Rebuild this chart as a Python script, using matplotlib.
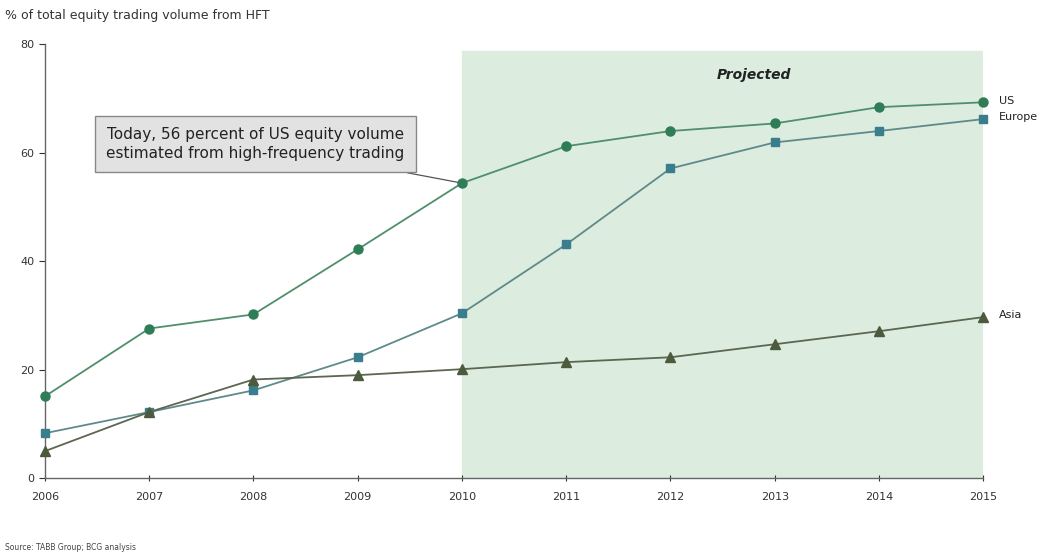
import numpy as np
import matplotlib.pyplot as plt

# Dados
anos = [2006, 2007, 2008, 2009, 2010, 2011, 2012, 2013, 2014, 2015]
us = [15.1, 27.6, 30.2, 42.2, 54.4, 61.2, 64.0, 65.4, 68.4, 69.3]
europa = [8.3, 12.2, 16.2, 22.3, 30.4, 43.1, 57.1, 61.9, 64.0, 66.2]
asia = [5.0, 12.2, 18.2, 19.0, 20.1, 21.4, 22.3, 24.7, 27.1, 29.7]
y_ticks = [0, 20, 40, 60, 80]
inicio_projecao = 2010

fig = plt.figure(figsize=(10.46, 5.6), dpi=100)
ax = fig.add_axes([0.043, 0.146, 0.897, 0.775])

# Área projetada
ax.axvspan(inicio_projecao, anos[-1], ymin=0, ymax=0.985, color='#dcecdf', zorder=0)

series = [
    ("US", us, 'o', '#2e7d57', '#4f8f6c', 6.5),
    ("Europe", europa, 's', '#3a7d8c', '#5f8a8a', 6),
    ("Asia", asia, '^', '#4e5a3e', '#5c6650', 6.5),
]
for nome, vals, mk, cor_mk, cor_linha, ms in series:
    ax.plot(anos, vals, color=cor_linha, linewidth=1.3, marker=mk,
            markersize=ms, markerfacecolor=cor_mk, markeredgecolor=cor_mk,
            clip_on=False, zorder=3)
    ax.text(anos[-1] + 0.15, vals[-1] + 0.3, nome, fontsize=8,
            va='center', ha='left', color='#222222')

ax.set_xlim(anos[0], anos[-1])
ax.set_ylim(0, 80)
ax.set_xticks(anos)
ax.set_yticks(y_ticks)
ax.tick_params(axis='both', labelsize=8, colors='#333333', length=4, width=0.8)
ax.tick_params(axis='x', direction='inout', pad=8)

for lado in ['top', 'right']:
    ax.spines[lado].set_visible(False)
for lado in ['left', 'bottom']:
    ax.spines[lado].set_color('#666666')
    ax.spines[lado].set_linewidth(1.0)

ax.text(2012.8, 74.3, "Projected", fontsize=10, fontweight='bold',
        fontstyle='italic', ha='center', va='center', color='#222222')

# Caixa de destaque
ax.annotate("Today, 56 percent of US equity volume\nestimated from high-frequency trading",
            xy=(anos[4], us[4]), xytext=(2008.02, 61.6),
            fontsize=11, ha='center', va='center', color='#222222',
            linespacing=1.3,
            bbox=dict(boxstyle='square,pad=0.75', facecolor='#e2e2e2',
                      edgecolor='#888888', linewidth=1.0),
            arrowprops=dict(arrowstyle='-', color='#555555', linewidth=0.9,
                            shrinkA=0, shrinkB=3))

fig.text(0.005, 0.972, "% of total equity trading volume from HFT",
         fontsize=9, color='#333333', va='center')
fig.text(0.005, 0.022, "Source: TABB Group; BCG analysis",
         fontsize=5.5, color='#444444', va='center')

fig.savefig("out.png", dpi=100)
